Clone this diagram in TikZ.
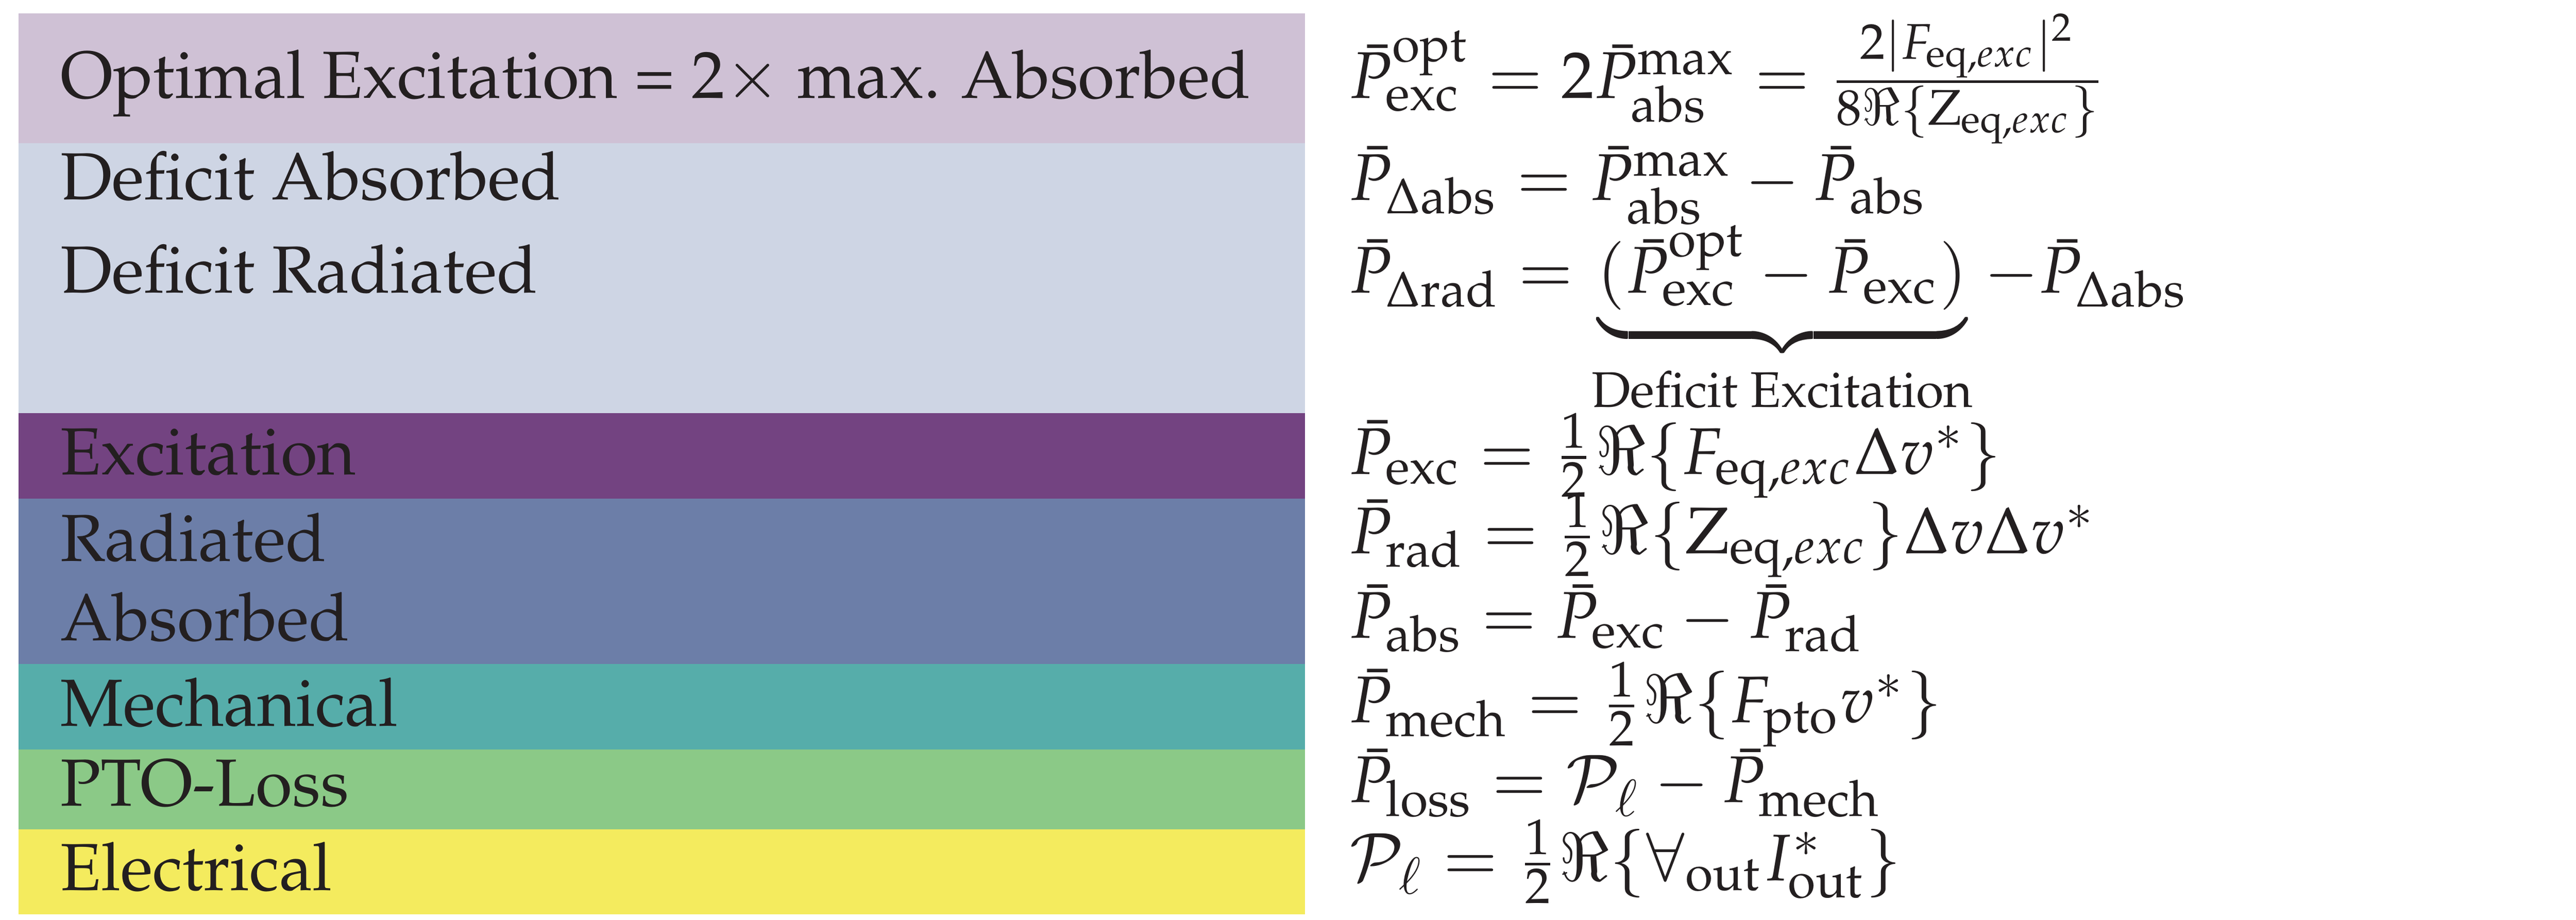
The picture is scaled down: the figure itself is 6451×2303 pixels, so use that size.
\documentclass[tikz,border=0pt]{standalone}
\usepackage[T1]{fontenc}
\usepackage{amsmath}
\usepackage{mathpazo}
\usepackage{tikz}

\definecolor{optcol}{HTML}{CFC1D5}
\definecolor{defcol}{HTML}{CED5E4}
\definecolor{exccol}{HTML}{734381}
\definecolor{radcol}{HTML}{6C7EA8}
\definecolor{mechcol}{HTML}{56ADAA}
\definecolor{losscol}{HTML}{8BC987}
\definecolor{eleccol}{HTML}{F4EB5E}
\definecolor{inkcol}{HTML}{231F20}

\tikzset{
  lbl/.style={anchor=base west, inner sep=0pt, text=inkcol, font=\fontsize{9.6}{11.5}\selectfont},
  eqn/.style={anchor=base west, inner sep=0pt, text=inkcol, font=\fontsize{9.5}{11.5}\selectfont}
}

\begin{document}
\begin{tikzpicture}[x=0.0575pt, y=-0.0575pt]
            \useasboundingbox (0,0) rectangle (6451,2303);
            % energy bands
            \fill[optcol] (46,33) rectangle (3268,359);
            \fill[defcol] (46,359) rectangle (3268,1035);
            \fill[exccol] (46,1035) rectangle (3268,1249);
            \fill[radcol] (46,1249) rectangle (3268,1663);
            \fill[mechcol] (46,1663) rectangle (3268,1877);
            \fill[losscol] (46,1877) rectangle (3268,2077);
            \fill[eleccol] (46,2077) rectangle (3268,2290);
            % band names
            \node [lbl] (Opt) at (148,246) {Optimal Excitation = 2$\times$ max. Absorbed};
            \node [lbl] (Dabs) at (148,500) {Deficit Absorbed};
            \node [lbl] (Drad) at (148,734) {Deficit Radiated};
            \node [lbl] (Exc) at (148,1189) {Excitation};
            \node [lbl] (Rad) at (148,1405) {Radiated};
            \node [lbl] (Abs) at (148,1604) {Absorbed};
            \node [lbl] (Mech) at (148,1818) {Mechanical};
            \node [lbl] (Loss) at (148,2018) {PTO-Loss};
            \node [lbl] (Elec) at (148,2230) {Electrical};
            % power equations
            \node [eqn] (eqOpt) at (3375,246) {$\bar{P}^{\text{opt}}_{\text{exc}} = 2\bar{P}^{\max}_{\text{abs}} = \frac{2|F_{\text{eq},exc}|^2}{8\Re\{\mathrm{Z}_{\text{eq},exc}\}}$};
            \node [eqn] (eqDabs) at (3375,501) {$\bar{P}_{\Delta\text{abs}} = \bar{P}^{\max}_{\text{abs}} - \bar{P}_{\text{abs}}$};
            \node [eqn] (eqDrad) at (3375,734) {$\bar{P}_{\Delta\text{rad}} = \underbrace{(\bar{P}^{\text{opt}}_{\text{exc}} - \bar{P}_{\text{exc}})}_{\text{Deficit Excitation}} -\bar{P}_{\Delta\text{abs}}$};
            \node [eqn] (eqExc) at (3375,1187) {$\bar{P}_{\text{exc}} = \frac{1}{2}\Re\{F_{\text{eq},exc}\Delta v^*\}$};
            \node [eqn] (eqRad) at (3375,1386) {$\bar{P}_{\text{rad}} = \frac{1}{2}\Re\{\mathrm{Z}_{\text{eq},exc}\}\Delta v\Delta v^*$};
            \node [eqn] (eqAbs) at (3375,1598) {$\bar{P}_{\text{abs}} = \bar{P}_{\text{exc}} - \bar{P}_{\text{rad}}$};
            \node [eqn] (eqMech) at (3375,1810) {$\bar{P}_{\text{mech}} = \frac{1}{2}\Re\{F_{\text{pto}}v^*\}$};
            \node [eqn] (eqLoss) at (3375,2010) {$\bar{P}_{\text{loss}} = \mathcal{P}_\ell - \bar{P}_{\text{mech}}$};
            \node [eqn] (eqElec) at (3375,2205) {$\mathcal{P}_\ell = \frac{1}{2}\Re\{\forall_{\text{out}}I^*_{\text{out}}\}$};
        \end{tikzpicture}
\end{document}
